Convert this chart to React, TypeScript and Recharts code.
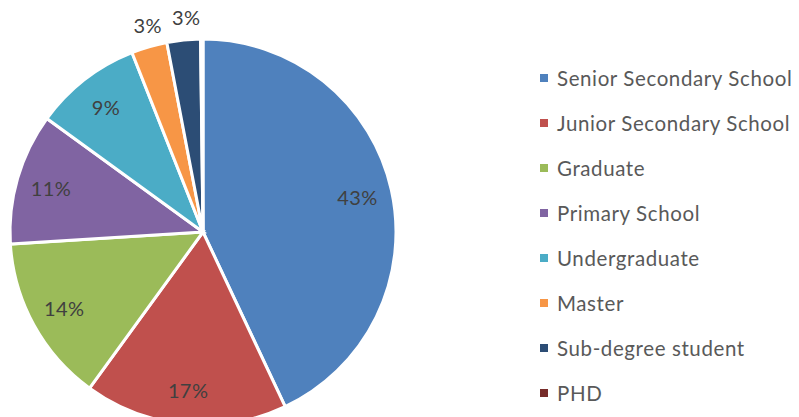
import React from 'react'
import { PieChart, Pie, Cell, Legend } from 'recharts'

const categories = [
  'Senior Secondary School',
  'Junior Secondary School',
  'Graduate',
  'Primary School',
  'Undergraduate',
  'Master',
  'Sub-degree student',
  'PHD',
]
const shares = [43, 17, 14, 11, 9, 3, 2.8, 0.2]
const colors = ['#4F81BD', '#C0504D', '#9BBB59', '#8064A2', '#4BACC6', '#F79646', '#2C4D75', '#772C2A']

const data = categories.map((name, i) => ({ name, value: shares[i] }))

const FONT = 'Lato, "Open Sans", sans-serif'
const RAD = Math.PI / 180

function renderLabel(props: any) {
  const { cx, cy, midAngle, outerRadius, percent } = props
  const pct = Math.round(percent * 100)
  if (pct < 1) return null
  // small slices get their label outside, the rest sit inside
  const r = pct < 5 ? outerRadius + 23 : outerRadius * 0.82
  const x = cx + r * Math.cos(-midAngle * RAD) + (pct < 5 ? 5 : 0)
  const y = cy + r * Math.sin(-midAngle * RAD)
  return (
    <text x={x} y={y} fill="#404040" fontSize={20} letterSpacing={0.4} fontFamily={FONT} textAnchor="middle" dominantBaseline="central">
      {pct}%
    </text>
  )
}

function LegendList() {
  return (
    <div style={{ fontFamily: FONT, fontSize: 20.5, letterSpacing: 0.6, color: '#595959' }}>
      {categories.map((c, i) => (
        <div key={c} style={{ display: 'flex', alignItems: 'center', height: 45, whiteSpace: 'nowrap' }}>
          <span style={{ width: 8, height: 8, background: colors[i], marginRight: 9, display: 'inline-block' }} />
          <span>{c}</span>
        </div>
      ))}
    </div>
  )
}

export default function App() {
  return (
    <div style={{ position: 'absolute', left: 0, top: 0, width: 799, height: 417, background: '#fff' }}>
      <PieChart width={799} height={417} margin={{ top: 0, right: 0, bottom: 0, left: 0 }}>
        <Pie
          data={data}
          dataKey="value"
          nameKey="name"
          cx={203}
          cy={232}
          outerRadius={193}
          startAngle={90}
          endAngle={-270}
          stroke="#fff"
          strokeWidth={3}
          label={renderLabel}
          labelLine={false}
          isAnimationActive={false}
        >
          {data.map((d, i) => (
            <Cell key={d.name} fill={colors[i]} />
          ))}
        </Pie>
        <Legend
          layout="vertical"
          align="right"
          verticalAlign="top"
          wrapperStyle={{ left: 540, top: 55, width: 259 }}
          content={() => <LegendList />}
        />
      </PieChart>
    </div>
  )
}
